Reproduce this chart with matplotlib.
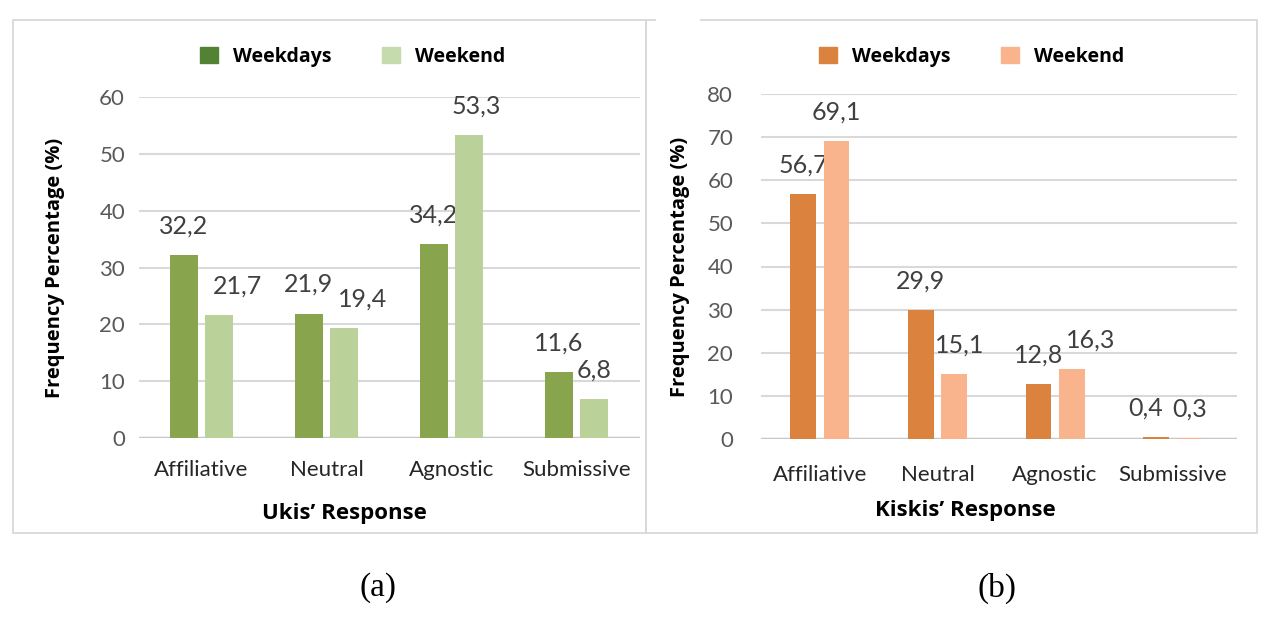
import numpy as np
import matplotlib.pyplot as plt
from matplotlib.patches import Rectangle, Patch

categories = ['Affiliative', 'Neutral', 'Agnostic', 'Submissive']
series = ['Weekdays', 'Weekend']
ukis_weekdays = [32.2, 21.9, 34.2, 11.6]
ukis_weekend = [21.7, 19.4, 53.3, 6.8]
kiskis_weekdays = [56.7, 29.9, 12.8, 0.4]
kiskis_weekend = [69.1, 15.1, 16.3, 0.3]

# horizontal nudges (px) of some value labels, as placed in the original
ukis_nudge = ([0, 0, 0, 0], [19, 19, 7, 0])
kiskis_nudge = ([0, 0, 0, -10], [0, 6, 19, 0])

W, H = 1272, 617
fig = plt.figure(figsize=(W / 100, H / 100), dpi=100)
plt.rcParams['font.family'] = ['Lato', 'DejaVu Sans']
BOLD = ['Open Sans', 'DejaVu Sans']


def px(x0, y0, x1, y1):
    # pixel box (top-left origin) -> figure fraction rect
    return [x0 / W, 1 - y1 / H, (x1 - x0) / W, (y1 - y0) / H]


def panel(rect, wd, we, nudge, cols, legcols, ymax, xlim, width, off, xlabel,
          xlab_xy, ylab_x, xpad, ypad, leg_anchor):
    ax = fig.add_axes(rect)
    x = np.arange(len(categories))
    b1 = ax.bar(x - off, wd, width, color=cols[0], zorder=5)
    b2 = ax.bar(x + off, we, width, color=cols[1], zorder=5)
    for bars, nd in zip((b1, b2), nudge):
        for b, dx in zip(bars, nd):
            v = b.get_height()
            ax.annotate(f"{v:.1f}".replace('.', ','),
                        (b.get_x() + b.get_width() / 2, v),
                        xytext=(dx * 0.72, 15.5), textcoords='offset points',
                        ha='center', va='baseline', fontsize=18, color='#404040')
    ax.set_ylim(0, ymax)
    ax.set_xlim(*xlim)
    ax.set_yticks(np.arange(0, ymax + 1, 10))
    ax.set_xticks(x, categories)
    ax.grid(axis='y', color='#D9D9D9', lw=1.5, zorder=0)
    for s in ax.spines.values():
        s.set_visible(False)
    ax.axhline(0, color='#C8C8C8', lw=2.5, zorder=4)
    ax.tick_params(length=0, labelsize=16, colors='#595959')
    ax.tick_params(axis='x', pad=xpad, colors='#262626')
    ax.tick_params(axis='y', pad=ypad)
    ax.set_ylabel('Frequency Percentage (%)', fontsize=14.5, fontweight='bold',
                  family=BOLD, va='center')
    ax.yaxis.set_label_coords(ylab_x, 0.5)
    ax.set_xlabel(xlabel, fontsize=16, fontweight='bold', family=BOLD, va='center')
    ax.xaxis.set_label_coords(*xlab_xy)
    handles = [Patch(color=legcols[0]), Patch(color=legcols[1])]
    ax.legend(handles, series, loc='center', bbox_to_anchor=leg_anchor,
              bbox_transform=fig.transFigure, ncol=2, frameon=False,
              handlelength=0.9, handleheight=0.9, columnspacing=2.6,
              prop={'weight': 'bold', 'size': 14, 'family': BOLD})
    return ax


panel(px(139, 97, 640, 438), ukis_weekdays, ukis_weekend, ukis_nudge,
      ('#88A44C', '#BBD19A'), ('#548235', '#C5DBAE'), 60, (-0.5, 3.51),
      0.224, 0.14, 'Ukis\u2019 Response', (0.411, -0.22), -0.168, 16, 10,
      (353 / W, 1 - 57 / H))
panel(px(761, 94, 1237, 439), kiskis_weekdays, kiskis_weekend, kiskis_nudge,
      ('#DC823F', '#F9B48D'), ('#DC823F', '#F9B48D'), 80, (-0.5, 3.547),
      0.218, 0.142, 'Kiskis\u2019 Response', (0.43, -0.206), -0.17, 19, 20,
      (972 / W, 1 - 57 / H))

# panel frames
for x0, x1 in ((13, 646), (646, 1257)):
    r = px(x0, 20, x1, 533)
    fig.patches.append(Rectangle((r[0], r[1]), r[2], r[3], transform=fig.transFigure,
                                 fill=False, ec='#D9D9D9', lw=1.3, zorder=0))
fig.patches.append(Rectangle((656 / W, 1 - 22 / H), 44 / W, 4 / H, transform=fig.transFigure,
                             fc='white', ec='none', zorder=1))

fig.text(378 / W, 1 - 588 / H, '(a)', ha='center', va='center', fontsize=24,
         family='Liberation Serif')
fig.text(997 / W, 1 - 588 / H, '(b)', ha='center', va='center', fontsize=24,
         family='Liberation Serif')

fig.savefig('out.png', dpi=100)
